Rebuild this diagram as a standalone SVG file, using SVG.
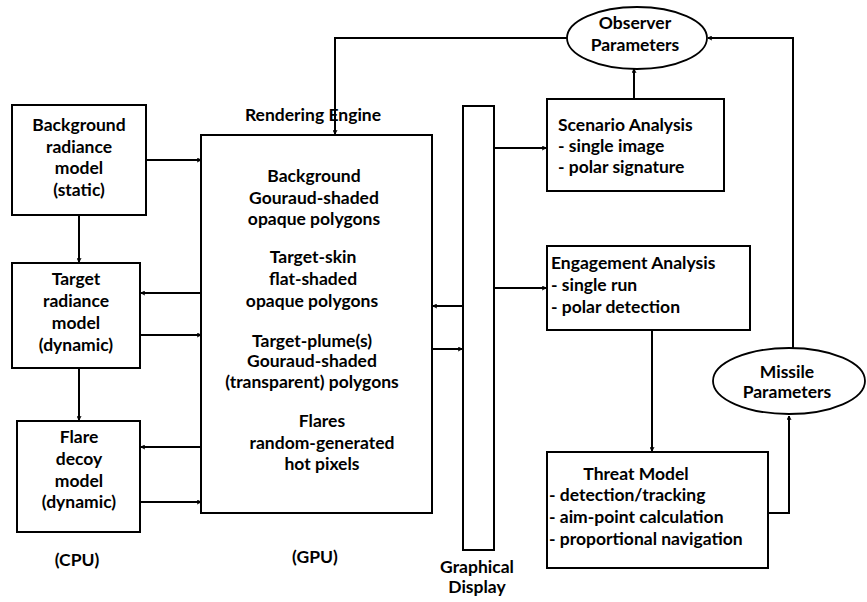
<svg xmlns="http://www.w3.org/2000/svg" width="867" height="602" viewBox="0 0 867 602">
<defs>
<style>
.box{fill:#fff;stroke:#000;stroke-width:2}
.ell{fill:#fff;stroke:#000;stroke-width:1.8}
.ln{fill:none;stroke:#000;stroke-width:2}
text{font-family:Lato,"Open Sans","Liberation Sans",sans-serif;font-weight:bold;font-size:17.5px;fill:#000}
.c{text-anchor:middle}
</style>
<marker id="ah" viewBox="0 0 10 10" refX="9" refY="5" markerWidth="5" markerHeight="5" orient="auto" markerUnits="userSpaceOnUse">
<path d="M1,1 L9,5 L1,9" fill="none" stroke="#000" stroke-width="2"/>
</marker>
</defs>
<rect width="867" height="602" fill="#fff"/>
<g id="connectors" class="ln">
<path class="ln" d="M146,160 H201" marker-end="url(#ah)"/>
<path class="ln" d="M79,215 V262" marker-end="url(#ah)"/>
<path class="ln" d="M201,293 H141" marker-end="url(#ah)"/>
<path class="ln" d="M140,335 H201" marker-end="url(#ah)"/>
<path class="ln" d="M79,368 V420" marker-end="url(#ah)"/>
<path class="ln" d="M201,447 H141" marker-end="url(#ah)"/>
<path class="ln" d="M140,502 H201" marker-end="url(#ah)"/>
<path class="ln" d="M567,38 H335 V134" marker-end="url(#ah)"/>
<path class="ln" d="M463,306 H433" marker-end="url(#ah)"/>
<path class="ln" d="M432,349 H462" marker-end="url(#ah)"/>
<path class="ln" d="M494,148 H546" marker-end="url(#ah)"/>
<path class="ln" d="M494,288 H546" marker-end="url(#ah)"/>
<path class="ln" d="M634,99 V69" marker-end="url(#ah)"/>
<path class="ln" d="M652,330 V451" marker-end="url(#ah)"/>
<path class="ln" d="M768,513 H789 V416" marker-end="url(#ah)"/>
<path class="ln" d="M793,348 V38 H708" marker-end="url(#ah)"/>
</g>
<g id="background">
<rect class="box" x="12" y="105" width="134" height="110"/>
<text class="c" x="79" y="131">Background</text>
<text class="c" x="79" y="153">radiance</text>
<text class="c" x="79" y="174">model</text>
<text class="c" x="79" y="196">(static)</text>
</g>
<g id="target">
<rect class="box" x="12" y="263" width="128" height="105"/>
<text class="c" x="76" y="285">Target</text>
<text class="c" x="76" y="307">radiance</text>
<text class="c" x="76" y="329">model</text>
<text class="c" x="76" y="351">(dynamic)</text>
</g>
<g id="flare">
<rect class="box" x="17" y="421" width="123" height="111"/>
<text class="c" x="79" y="443">Flare</text>
<text class="c" x="79" y="465">decoy</text>
<text class="c" x="79" y="487">model</text>
<text class="c" x="79" y="508">(dynamic)</text>
</g>
<g id="cpu"><text class="c" x="77" y="566">(CPU)</text></g>
<g id="rendering">
<text class="c" x="313" y="121">Rendering Engine</text>
<rect class="box" x="201" y="135" width="231" height="378"/>
<text class="c" x="314" y="182">Background</text>
<text class="c" x="314" y="204">Gouraud-shaded</text>
<text class="c" x="314" y="225">opaque polygons</text>
<text class="c" x="313" y="263">Target-skin</text>
<text class="c" x="313" y="285">flat-shaded</text>
<text class="c" x="312" y="307">opaque polygons</text>
<text class="c" x="312" y="347">Target-plume(s)</text>
<text class="c" x="312" y="367">Gouraud-shaded</text>
<text class="c" x="312" y="388">(transparent) polygons</text>
<text class="c" x="322" y="427">Flares</text>
<text class="c" x="322" y="449">random-generated</text>
<text class="c" x="322" y="470">hot pixels</text>
</g>
<g id="gpu"><text class="c" x="315" y="563">(GPU)</text></g>
<g id="display">
<rect class="box" x="463" y="106" width="31" height="444"/>
<text class="c" x="477" y="573">Graphical</text>
<text class="c" x="477" y="593">Display</text>
</g>
<g id="observer">
<ellipse class="ell" cx="637" cy="38" rx="70" ry="31"/>
<text class="c" x="635" y="29">Observer</text>
<text class="c" x="635" y="51">Parameters</text>
</g>
<g id="scenario">
<rect class="box" x="547" y="99" width="177" height="92"/>
<text x="558" y="131">Scenario Analysis</text>
<text x="558" y="152"> - single image</text>
<text x="558" y="173"> - polar signature</text>
</g>
<g id="engagement">
<rect class="box" x="547" y="246" width="203" height="84"/>
<text x="551" y="269">Engagement Analysis</text>
<text x="551" y="291"> - single run</text>
<text x="551" y="313"> - polar detection</text>
</g>
<g id="threat">
<rect class="box" x="547" y="452" width="221" height="116"/>
<text class="c" x="636" y="480">Threat Model</text>
<text x="549" y="501">- detection/tracking</text>
<text x="549" y="523">- aim-point calculation</text>
<text x="549" y="545">- proportional navigation</text>
</g>
<g id="missile">
<ellipse class="ell" cx="789" cy="381" rx="76" ry="33"/>
<text class="c" x="787" y="378">Missile</text>
<text class="c" x="787" y="398">Parameters</text>
</g>
</svg>
